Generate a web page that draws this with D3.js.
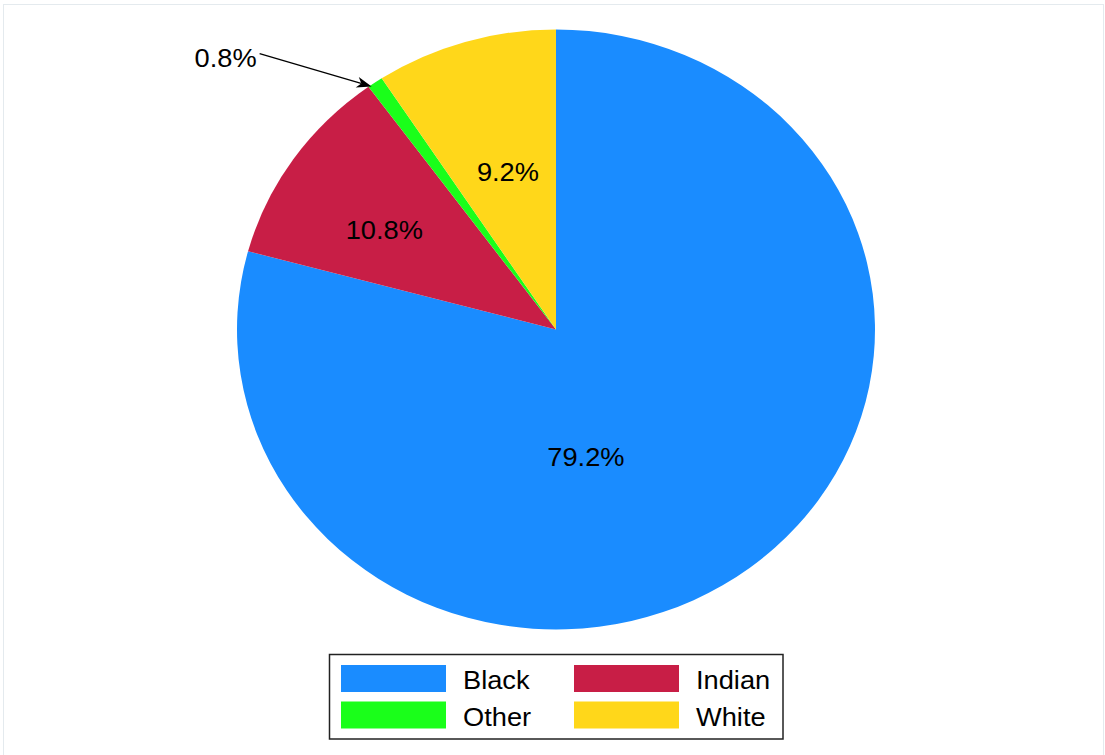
<!DOCTYPE html>
<html>
<head>
<meta charset="utf-8">
<script src="https://cdn.jsdelivr.net/npm/d3@7"></script>
<style>
  html, body { margin: 0; padding: 0; background: #fff; }
  text { font-family: "Liberation Sans", Arial, sans-serif; }
</style>
</head>
<body>
<div id="chart"></div>
<script>
// data
var categories = ["Black", "Indian", "Other", "White"];
var shares = [79.2, 10.8, 0.8, 9.2];
var colors = ["#1a8cff", "#c81e46", "#1aff1a", "#ffd71a"];
var legendOrder = ["Black", "Indian", "Other", "White"];

var W = 1105, H = 755;
var cx = 556, cy = 329.5,
    ry = 300, rx = 319,
    stretch = rx / ry,      // the pie is drawn a bit wider than tall
    fontStretch = 1.09;

var svg = d3.select("#chart").append("svg")
    .attr("width", W)
    .attr("height", H);

// faint outer frame
svg.append("rect")
    .attr("x", 3.5).attr("y", 4.5)
    .attr("width", W - 5).attr("height", H + 10)
    .attr("fill", "none")
    .attr("stroke", "#e4eaee")
    .attr("stroke-width", 1);

var data = categories.map(function (c, i) {
    return { name: c, value: shares[i], color: colors[i] };
});

var pie = d3.pie()
    .sort(null)
    .value(function (d) { return d.value; });

var arcs = pie(data);

var arc = d3.arc()
    .innerRadius(0)
    .outerRadius(ry);

var g = svg.append("g")
    .attr("transform", "translate(" + cx + "," + cy + ") scale(" + stretch + ",1)");

g.selectAll("path.slice")
    .data(arcs)
    .enter().append("path")
    .attr("class", "slice")
    .attr("d", arc)
    .attr("fill", function (d) { return d.data.color; });

// point on the (stretched) pie at angle a, fraction f of the radius
function at(a, f) {
    return [cx + Math.sin(a) * f * rx, cy - Math.cos(a) * f * ry];
}

// label placement: nudge from the slice bisector (deg) and radius fraction
var labelNudge = { Black: [25, 0.435], Indian: [-2.8, 0.633], White: [0.5, 0.545] };

function pct(v) { return v.toFixed(1) + "%"; }

function stretchedText(sel, x, y, anchor, txt) {
    sel.append("text")
        .attr("transform", "translate(" + x + "," + y + ") scale(" + fontStretch + ",1)")
        .attr("text-anchor", anchor)
        .attr("font-size", 25)
        .attr("fill", "#000")
        .text(txt);
}

arcs.forEach(function (d) {
    var n = labelNudge[d.data.name];
    if (!n) return;
    var mid = (d.startAngle + d.endAngle) / 2 + n[0] * Math.PI / 180;
    var p = at(mid, n[1]);
    stretchedText(svg, p[0], p[1] + 9, "middle", pct(d.data.value));
});

// small slice: label outside with an arrow
arcs.forEach(function (d) {
    if (labelNudge[d.data.name]) return;
    var a = d.startAngle + 0.17 * (d.endAngle - d.startAngle);
    var tip = at(a, 0.995);
    var start = [tip[0] - 112, tip[1] - 33];
    var dx = tip[0] - start[0], dy = tip[1] - start[1];
    var len = Math.sqrt(dx * dx + dy * dy);
    var ux = dx / len, uy = dy / len;
    var hl = 15, hw = 5.5;
    var base = [tip[0] - ux * hl, tip[1] - uy * hl];
    svg.append("line")
        .attr("x1", start[0]).attr("y1", start[1])
        .attr("x2", base[0] + ux * 4).attr("y2", base[1] + uy * 4)
        .attr("stroke", "#000")
        .attr("stroke-width", 1.3);
    svg.append("path")
        .attr("d", "M" + tip[0] + "," + tip[1] +
            "L" + (base[0] - uy * hw) + "," + (base[1] + ux * hw) +
            "L" + (tip[0] - ux * hl * 0.72) + "," + (tip[1] - uy * hl * 0.72) +
            "L" + (base[0] + uy * hw) + "," + (base[1] - ux * hw) + "Z")
        .attr("fill", "#000");
    stretchedText(svg, start[0] - 3, start[1] + 13, "end", pct(d.data.value));
});

// legend
var legend = svg.append("g").attr("class", "legend");
legend.append("rect")
    .attr("x", 329.5).attr("y", 654.5)
    .attr("width", 453.5).attr("height", 84.5)
    .attr("fill", "#fff")
    .attr("stroke", "#222")
    .attr("stroke-width", 1.5);

var colX = [341, 574], rowY = [665, 701.5];
legendOrder.forEach(function (name, i) {
    var k = categories.indexOf(name);
    var col = i % 2, row = Math.floor(i / 2);
    legend.append("rect")
        .attr("x", colX[col]).attr("y", rowY[row])
        .attr("width", 105).attr("height", 27)
        .attr("fill", colors[k]);
    stretchedText(legend, colX[col] + 122, rowY[row] + 24, "start", name);
});
</script>
</body>
</html>
